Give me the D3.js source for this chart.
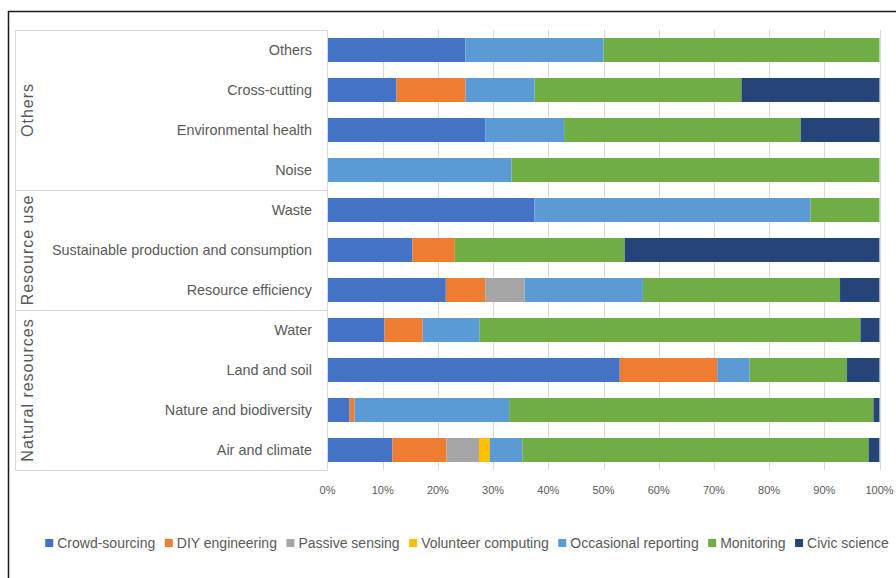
<!DOCTYPE html>
<html lang="en">
<head>
  <meta charset="UTF-8">
  <title>Citizen science approaches by theme</title>
  <style>
    body { margin: 0; background: #fff; font-family: "Liberation Sans", Arial, sans-serif; }
    svg { display: block; }
    .grid line { stroke: #d9d9d9; stroke-width: 1px; }
    .cat-label { fill: #595959; font-size: 14.4px; }
    .group-label { fill: #595959; font-size: 16px; letter-spacing: 1px; }
    .tick-label { fill: #595959; font-size: 11px; }
    .legend text { fill: #595959; font-size: 14px; }
  </style>
</head>
<body>
  <div id="chart"></div>

  <script src="https://d3js.org/d3.v7.min.js"></script>
  <script>
    // categories, top to bottom
    const categories = [
      "Others", "Cross-cutting", "Environmental health", "Noise",
      "Waste", "Sustainable production and consumption", "Resource efficiency",
      "Water", "Land and soil", "Nature and biodiversity", "Air and climate"
    ];

    // group name and how many categories it spans
    const groupNames = ["Others", "Resource use", "Natural resources"];
    const groupSizes = [4, 3, 4];

    const seriesNames = [
      "Crowd-sourcing", "DIY engineering", "Passive sensing", "Volunteer computing",
      "Occasional reporting", "Monitoring", "Civic science"
    ];
    const seriesColors = ["#4472c4", "#ed7d31", "#a5a5a5", "#ffc000", "#5b9bd5", "#70ad47", "#264478"];

    // shares (%) per series, same order as categories
    const crowdSourcing   = [25, 12.5, 28.57, 0, 37.5, 15.38, 21.43, 10.34, 52.94, 4.0, 11.76];
    const diyEngineering  = [0, 12.5, 0, 0, 0, 7.69, 7.14, 6.90, 17.65, 0.9, 9.80];
    const passiveSensing  = [0, 0, 0, 0, 0, 0, 7.14, 0, 0, 0, 5.88];
    const volunteerComp   = [0, 0, 0, 0, 0, 0, 0, 0, 0, 0, 1.96];
    const occasionalRep   = [25, 12.5, 14.29, 33.33, 50, 0, 21.43, 10.34, 5.88, 28.0, 5.88];
    const monitoring      = [50, 37.5, 42.86, 66.67, 12.5, 30.77, 35.71, 68.97, 17.65, 66.0, 62.75];
    const civicScience    = [0, 25, 14.29, 0, 0, 46.15, 7.14, 3.45, 5.88, 1.1, 1.96];

    const tickValues = d3.range(0, 101, 10);

    // build rows for d3.stack
    const seriesValues = [crowdSourcing, diyEngineering, passiveSensing, volunteerComp,
                          occasionalRep, monitoring, civicScience];
    const rows = categories.map((c, i) => {
      const r = { category: c };
      seriesNames.forEach((s, j) => { r[s] = seriesValues[j][i]; });
      return r;
    });

    const width = 896, height = 578;
    const plot = { left: 327.5, right: 879.5, top: 30, bottom: 470 };

    const svg = d3.select("#chart").append("svg")
      .attr("width", width)
      .attr("height", height);

    // outer frame (runs off the right and bottom edges)
    svg.append("rect")
      .attr("x", 8.5).attr("y", 11.5)
      .attr("width", 1000).attr("height", 1000)
      .attr("fill", "none")
      .attr("stroke", "#1a1a1a")
      .attr("stroke-width", 1.5);

    const x = d3.scaleLinear().domain([0, 100]).range([plot.left, plot.right]);
    const y = d3.scaleBand().domain(categories).range([plot.top, plot.bottom])
      .paddingInner(0.4).paddingOuter(0.2);

    // gridlines
    svg.append("g").attr("class", "grid")
      .selectAll("line")
      .data(tickValues.slice(1))
      .join("line")
      .attr("x1", d => Math.round(x(d)) + 0.5)
      .attr("x2", d => Math.round(x(d)) + 0.5)
      .attr("y1", plot.top)
      .attr("y2", plot.bottom);

    // stacked bars
    const stack = d3.stack().keys(seriesNames);
    const stacked = stack(rows);

    svg.append("g")
      .selectAll("g")
      .data(stacked)
      .join("g")
      .attr("fill", (d, i) => seriesColors[i])
      .selectAll("rect")
      .data(d => d)
      .join("rect")
      .attr("x", d => x(d[0]))
      .attr("y", d => y(d.data.category))
      .attr("width", d => Math.max(0, x(d[1]) - x(d[0])))
      .attr("height", y.bandwidth());

    // category axis box with group separators
    const boxLeft = 15.5;
    const axisX = Math.round(plot.left) - 0.5;
    const cum = [0];
    groupSizes.forEach(n => cum.push(cum[cum.length - 1] + n));
    const step = y.step();
    const sepY = cum.map(c => plot.top + c * step);

    const axisG = svg.append("g").attr("class", "grid");
    axisG.selectAll("line.sep")
      .data(sepY)
      .join("line")
      .attr("class", "sep")
      .attr("x1", boxLeft).attr("x2", axisX)
      .attr("y1", d => Math.round(d) + 0.5)
      .attr("y2", d => Math.round(d) + 0.5);
    axisG.append("line")
      .attr("x1", boxLeft).attr("x2", boxLeft)
      .attr("y1", plot.top).attr("y2", plot.bottom);
    axisG.append("line")
      .attr("x1", axisX).attr("x2", axisX)
      .attr("y1", plot.top).attr("y2", plot.bottom);

    // category labels
    svg.append("g")
      .selectAll("text")
      .data(categories)
      .join("text")
      .attr("class", "cat-label")
      .attr("x", 312)
      .attr("y", d => y(d) + y.bandwidth() / 2)
      .attr("dy", "0.35em")
      .attr("text-anchor", "end")
      .text(d => d);

    // group labels, rotated
    svg.append("g")
      .selectAll("text")
      .data(groupNames)
      .join("text")
      .attr("class", "group-label")
      .attr("text-anchor", "middle")
      .attr("transform", (d, i) => `translate(33,${(sepY[i] + sepY[i + 1]) / 2}) rotate(-90)`)
      .text(d => d);

    // x tick labels
    svg.append("g")
      .selectAll("text")
      .data(tickValues)
      .join("text")
      .attr("class", "tick-label")
      .attr("x", d => x(d))
      .attr("y", 490)
      .attr("dy", "0.35em")
      .attr("text-anchor", "middle")
      .text(d => d + "%");

    // legend
    const legend = svg.append("g").attr("class", "legend");
    const items = legend.selectAll("g")
      .data(seriesNames)
      .join("g");
    items.append("rect")
      .attr("width", 8).attr("height", 8)
      .attr("y", -4)
      .attr("fill", (d, i) => seriesColors[i]);
    items.append("text")
      .attr("x", 12)
      .attr("dy", "0.35em")
      .text(d => d);

    let offset = 0;
    const gap = 9.5;
    items.each(function () {
      const w = 12 + this.querySelector("text").getComputedTextLength();
      d3.select(this).attr("transform", `translate(${offset},0)`);
      offset += w + gap;
    });
    const total = offset - gap;
    legend.attr("transform", `translate(${467 - total / 2},543)`);
  </script>
</body>
</html>
